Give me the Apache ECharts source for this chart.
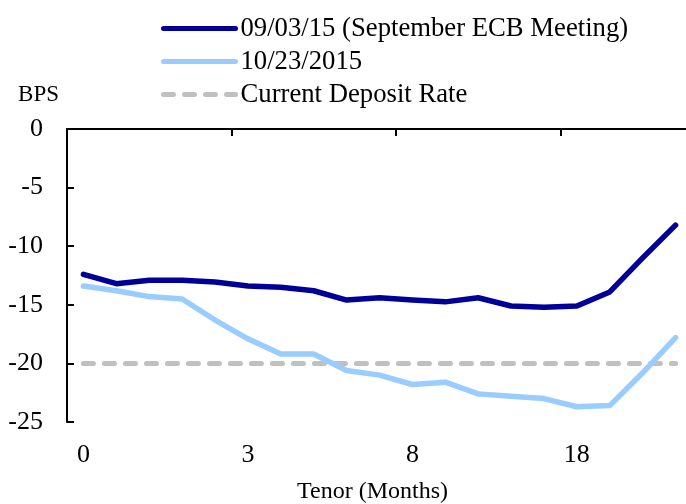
<!DOCTYPE html>
<html>
<head>
<meta charset="utf-8">
<script src="https://cdn.jsdelivr.net/npm/echarts@6/dist/echarts.min.js"></script>
<style>
    html, body { margin: 0; padding: 0; background: #ffffff; }
    #curveChart { width: 686px; height: 504px; }
</style>
</head>
<body>
<div id="curveChart"></div>
<script>
// tenor labels, only every fifth point carries one
var tenorLabels = ['0', '', '', '', '', '3', '', '', '', '', '8', '', '', '', '', '18', '', '', ''];
// 09/03/15 curve (bps)
var septCurve = [-12.4, -13.2, -12.9, -12.9, -13.05, -13.4, -13.5, -13.8, -14.6, -14.4, -14.6, -14.75, -14.4, -15.1, -15.2, -15.1, -13.9, -11.0, -8.2];
// 10/23/2015 curve (bps)
var octCurve = [-13.4, -13.8, -14.3, -14.5, -16.3, -17.9, -19.2, -19.2, -20.6, -21.0, -21.8, -21.6, -22.6, -22.8, -23.0, -23.7, -23.6, -20.8, -17.8];
// deposit rate
var depositRate = [-20, -20, -20, -20, -20, -20, -20, -20, -20, -20, -20, -20, -20, -20, -20, -20, -20, -20, -20];
var yTicks = ['0', '-5', '-10', '-15', '-20', '-25'];

var seriesNames = ['09/03/15 (September ECB Meeting)', '10/23/2015', 'Current Deposit Rate'];
var fontName = "'Liberation Serif', 'Times New Roman', serif";

var CurveChart = {
    init: function () {
        var cats = tenorLabels.map(function (v, i) { return 'p' + i; });

        var option = {
            backgroundColor: '#ffffff',
            animation: false,
            textStyle: { fontFamily: fontName, color: '#000000' },
            legend: {
                orient: 'vertical',
                left: 156,
                top: 10,
                itemWidth: 72,
                itemHeight: 14,
                itemGap: 6,
                lineStyle: { width: 5, cap: 'round' },
                // hide the dot that line series put in the legend icon
                itemStyle: { color: 'rgba(0,0,0,0)', borderColor: 'rgba(0,0,0,0)', borderWidth: 0 },
                textStyle: { fontFamily: fontName, fontSize: 26.7, color: '#000000' },
                data: seriesNames
            },
            grid: {
                left: 67,
                right: -6,
                top: 129,
                bottom: 82,
                outerBoundsMode: 'none'
            },
            xAxis: [{
                // axis line on top (value 0), ticks pointing down
                type: 'category',
                position: 'top',
                data: cats,
                boundaryGap: true,
                axisLine: { show: true, lineStyle: { color: '#000000', width: 2 } },
                axisTick: { show: true, inside: true, length: 7, interval: 4, lineStyle: { color: '#000000', width: 2 } },
                axisLabel: { show: false },
                splitLine: { show: false }
            }, {
                // labels below the plot
                type: 'category',
                position: 'bottom',
                data: cats,
                boundaryGap: true,
                axisLine: { show: false },
                axisTick: { show: false },
                axisLabel: {
                    interval: 4,
                    margin: 20,
                    fontFamily: fontName,
                    fontSize: 26,
                    color: '#000000',
                    formatter: function (val, idx) { return tenorLabels[idx]; }
                },
                name: 'Tenor (Months)',
                nameLocation: 'middle',
                nameGap: 58,
                nameTextStyle: { fontFamily: fontName, fontSize: 24, color: '#000000', padding: [0, 14, 0, 0] },
                splitLine: { show: false }
            }],
            yAxis: {
                type: 'value',
                min: -25,
                max: 0,
                interval: 5,
                name: 'BPS',
                nameLocation: 'end',
                nameGap: 23,
                nameTextStyle: { fontFamily: fontName, fontSize: 23, color: '#000000', align: 'right', padding: [0, 8, 0, 0] },
                axisLine: { show: true, lineStyle: { color: '#000000', width: 2 } },
                axisTick: { show: true, inside: true, length: 7, lineStyle: { color: '#000000', width: 2 } },
                axisLabel: {
                    margin: 24,
                    fontFamily: fontName,
                    fontSize: 26,
                    color: '#000000',
                    formatter: function (val) { return yTicks[Math.round(-val / 5)]; }
                },
                splitLine: { show: false }
            },
            series: [{
                name: seriesNames[0],
                type: 'line',
                xAxisIndex: 0,
                data: septCurve,
                symbol: 'none',
                lineStyle: { color: '#000099', width: 5.5, cap: 'round', join: 'round' },
                itemStyle: { color: '#000099' },
                z: 4
            }, {
                name: seriesNames[1],
                type: 'line',
                xAxisIndex: 0,
                data: octCurve,
                symbol: 'none',
                lineStyle: { color: '#99ccff', width: 5.5, cap: 'round', join: 'round' },
                itemStyle: { color: '#99ccff' },
                z: 3
            }, {
                name: seriesNames[2],
                type: 'line',
                xAxisIndex: 0,
                data: depositRate,
                symbol: 'none',
                lineStyle: { color: '#c0c0c0', width: 5, type: [10, 11], cap: 'round' },
                itemStyle: { color: '#c0c0c0' },
                z: 2
            }]
        };

        // 初始化图表
        var myChart = echarts.init(document.getElementById('curveChart'));
        myChart.setOption(option);
    }
};

CurveChart.init();
</script>
</body>
</html>
